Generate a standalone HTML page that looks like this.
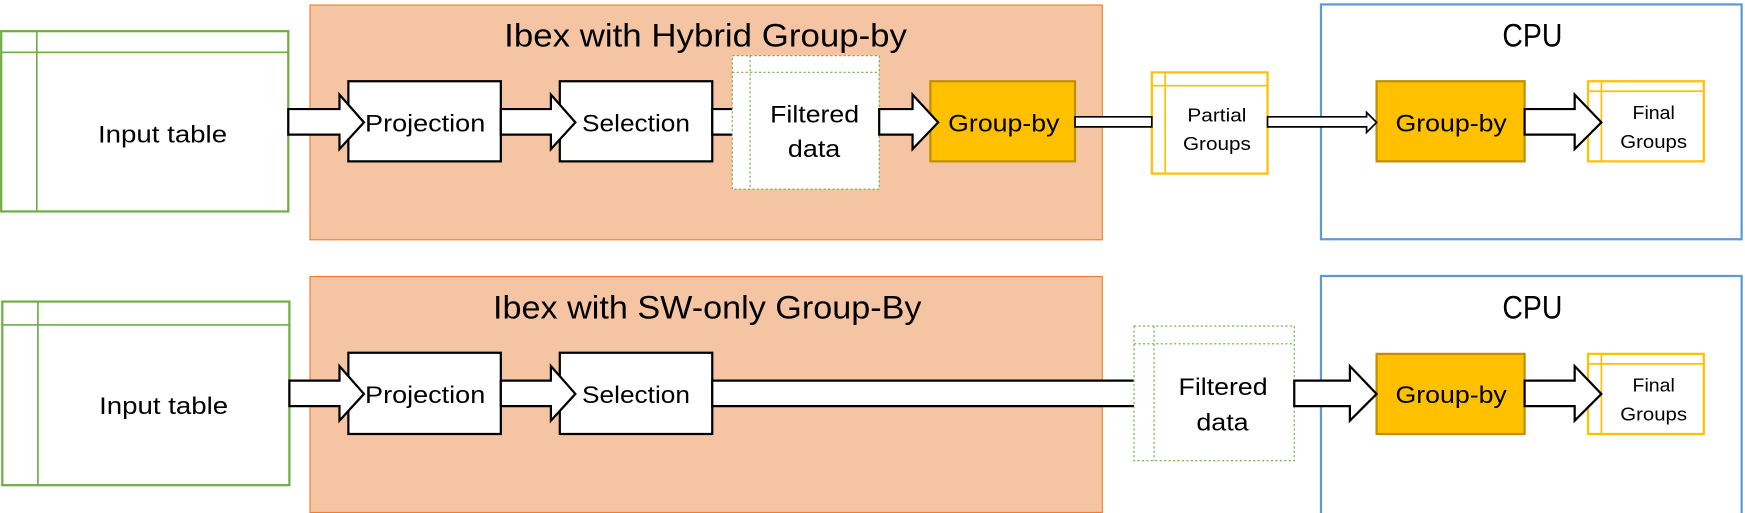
<!DOCTYPE html>
<html><head><meta charset="utf-8"><style>
html,body{margin:0;padding:0;background:#fff;}
svg{display:block;}
text{font-family:"Liberation Sans",sans-serif;fill:#000;}
</style></head><body>
<svg width="1745" height="513" viewBox="0 0 1568 461" xmlns="http://www.w3.org/2000/svg">
<!-- TOP ROW -->
<rect x="278.5" y="4.5" width="712" height="211" fill="#F5C5A3" stroke="#ED7D31" stroke-width="1"/>
<text x="453" y="42" font-size="29" textLength="362" lengthAdjust="spacingAndGlyphs">Ibex with Hybrid Group-by</text>
<rect x="1187" y="4" width="378" height="211" fill="#fff" stroke="#5B9BD5" stroke-width="2"/>
<text x="1350" y="42" font-size="29" textLength="54" lengthAdjust="spacingAndGlyphs">CPU</text>

<rect x="1" y="28" width="258" height="162" fill="#fff" stroke="#70AD47" stroke-width="2"/>
<line x1="33" y1="28" x2="33" y2="190" stroke="#70AD47" stroke-width="1.5"/>
<line x1="1" y1="47" x2="259" y2="47" stroke="#70AD47" stroke-width="1.5"/>
<text x="88" y="128" font-size="22" textLength="116" lengthAdjust="spacingAndGlyphs">Input table</text>

<rect x="313" y="73" width="137" height="72" fill="#fff" stroke="#000" stroke-width="2"/>
<rect x="503" y="73" width="137" height="72" fill="#fff" stroke="#000" stroke-width="2"/>
<rect x="836" y="73" width="130" height="72" fill="#FFC000" stroke="#BF9000" stroke-width="2"/>
<rect x="1237" y="73" width="133" height="72" fill="#FFC000" stroke="#BF9000" stroke-width="2"/>
<rect x="1427" y="73" width="104" height="72" fill="#fff" stroke="#FFC000" stroke-width="2"/>
<line x1="1439" y1="73" x2="1439" y2="145" stroke="#FFC000" stroke-width="1.5"/>
<line x1="1427" y1="82" x2="1531" y2="82" stroke="#FFC000" stroke-width="1.5"/>

<g fill="#fff" stroke="#000" stroke-width="2">
<polygon points="640,98 670,98 670,121 640,121"/>
</g>

<rect x="658" y="50" width="132" height="120" fill="#fff" stroke="#70AD47" stroke-width="1" stroke-dasharray="2,2"/>
<line x1="674" y1="50" x2="674" y2="170" stroke="#70AD47" stroke-dasharray="2,2"/>
<line x1="658" y1="65" x2="790" y2="65" stroke="#70AD47" stroke-dasharray="2,2"/>

<rect x="1035" y="65" width="104" height="91" fill="#fff" stroke="#FFC000" stroke-width="2"/>
<line x1="1047" y1="65" x2="1047" y2="156" stroke="#FFC000" stroke-width="1.5"/>
<line x1="1035" y1="77" x2="1139" y2="77" stroke="#FFC000" stroke-width="1.5"/>

<!-- arrows top -->
<g fill="#fff" stroke="#000" stroke-width="2">
<polygon points="259,98 305,98 305,85 327,110 305,134 305,121 259,121"/>
<polygon points="450,98 495,98 495,85 517,110 495,134 495,121 450,121"/>
<polygon points="790,98 820,98 820,85 843,110 820,134 820,121 790,121"/>
<polygon points="1370,98 1415,98 1415,85 1439,110 1415,134 1415,121 1370,121"/>
</g>
<g fill="#fff" stroke="#000" stroke-width="1.5">
<polygon points="966,105 1035,105 1035,114 966,114"/>
<polygon points="1139,105 1228,105 1228,101 1237,110 1228,119 1228,114 1139,114"/>
</g>

<text x="328" y="118" font-size="22" textLength="108" lengthAdjust="spacingAndGlyphs">Projection</text>
<text x="523" y="118" font-size="22" textLength="97" lengthAdjust="spacingAndGlyphs">Selection</text>
<text x="692" y="110" font-size="22" textLength="80" lengthAdjust="spacingAndGlyphs">Filtered</text>
<text x="708" y="141" font-size="22" textLength="47" lengthAdjust="spacingAndGlyphs">data</text>
<text x="852" y="118" font-size="22" textLength="100" lengthAdjust="spacingAndGlyphs">Group-by</text>
<text x="1067" y="109" font-size="17" textLength="53" lengthAdjust="spacingAndGlyphs">Partial</text>
<text x="1063" y="135" font-size="17" textLength="61" lengthAdjust="spacingAndGlyphs">Groups</text>
<text x="1254" y="118" font-size="22" textLength="100" lengthAdjust="spacingAndGlyphs">Group-by</text>
<text x="1467" y="107" font-size="17" textLength="38" lengthAdjust="spacingAndGlyphs">Final</text>
<text x="1456" y="133" font-size="17" textLength="60" lengthAdjust="spacingAndGlyphs">Groups</text>

<!-- BOTTOM ROW -->
<rect x="278.5" y="248.5" width="712" height="212" fill="#F5C5A3" stroke="#ED7D31" stroke-width="1"/>
<text x="443" y="286" font-size="29" textLength="385" lengthAdjust="spacingAndGlyphs">Ibex with SW-only Group-By</text>
<rect x="1187" y="248" width="378" height="214" fill="#fff" stroke="#5B9BD5" stroke-width="2"/>
<text x="1350" y="286" font-size="29" textLength="54" lengthAdjust="spacingAndGlyphs">CPU</text>

<rect x="2" y="271" width="258" height="165" fill="#fff" stroke="#70AD47" stroke-width="2"/>
<line x1="34" y1="271" x2="34" y2="436" stroke="#70AD47" stroke-width="1.5"/>
<line x1="2" y1="292" x2="260" y2="292" stroke="#70AD47" stroke-width="1.5"/>
<text x="89" y="372" font-size="22" textLength="116" lengthAdjust="spacingAndGlyphs">Input table</text>

<rect x="313" y="317" width="137" height="73" fill="#fff" stroke="#000" stroke-width="2"/>
<rect x="503" y="317" width="137" height="73" fill="#fff" stroke="#000" stroke-width="2"/>
<rect x="1237" y="318" width="133" height="72" fill="#FFC000" stroke="#BF9000" stroke-width="2"/>
<rect x="1427" y="318" width="104" height="72" fill="#fff" stroke="#FFC000" stroke-width="2"/>
<line x1="1439" y1="318" x2="1439" y2="390" stroke="#FFC000" stroke-width="1.5"/>
<line x1="1427" y1="327" x2="1531" y2="327" stroke="#FFC000" stroke-width="1.5"/>

<g fill="#fff" stroke="#000" stroke-width="2">
<polygon points="640,342 1025,342 1025,365 640,365"/>
</g>
<rect x="1019" y="293" width="144" height="121" fill="#fff" stroke="#70AD47" stroke-width="1" stroke-dasharray="2,2"/>
<line x1="1037" y1="293" x2="1037" y2="414" stroke="#70AD47" stroke-dasharray="2,2"/>
<line x1="1019" y1="309" x2="1163" y2="309" stroke="#70AD47" stroke-dasharray="2,2"/>

<g fill="#fff" stroke="#000" stroke-width="2">
<polygon points="260,342 305,342 305,329 327,354 305,378 305,365 260,365"/>
<polygon points="450,342 495,342 495,329 517,354 495,378 495,365 450,365"/>
<polygon points="1163,342 1213,342 1213,329 1237,354 1213,378 1213,365 1163,365"/>
<polygon points="1370,342 1415,342 1415,329 1439,354 1415,378 1415,365 1370,365"/>
</g>

<text x="328" y="362" font-size="22" textLength="108" lengthAdjust="spacingAndGlyphs">Projection</text>
<text x="523" y="362" font-size="22" textLength="97" lengthAdjust="spacingAndGlyphs">Selection</text>
<text x="1059" y="355" font-size="22" textLength="80" lengthAdjust="spacingAndGlyphs">Filtered</text>
<text x="1075" y="387" font-size="22" textLength="47" lengthAdjust="spacingAndGlyphs">data</text>
<text x="1254" y="362" font-size="22" textLength="100" lengthAdjust="spacingAndGlyphs">Group-by</text>
<text x="1467" y="352" font-size="17" textLength="38" lengthAdjust="spacingAndGlyphs">Final</text>
<text x="1456" y="378" font-size="17" textLength="60" lengthAdjust="spacingAndGlyphs">Groups</text>
</svg>
</body></html>
